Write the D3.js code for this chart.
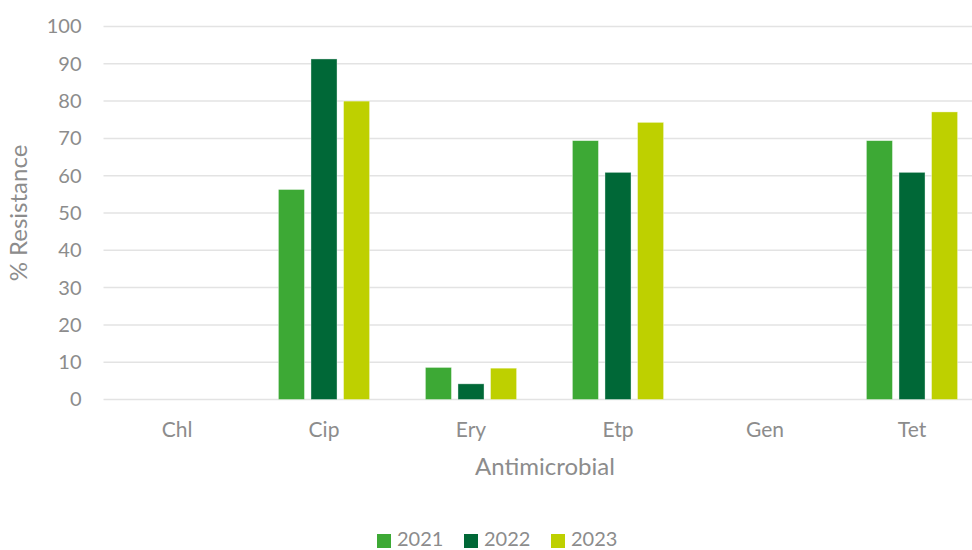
<!DOCTYPE html>
<html>
<head>
<meta charset="utf-8">
<script src="https://cdn.jsdelivr.net/npm/d3@7"></script>
<style>
  html, body { margin: 0; padding: 0; background: #ffffff; }
  svg { display: block; font-family: Lato, "Open Sans", sans-serif; }
</style>
</head>
<body>
<svg id="chart" width="972" height="550"></svg>
<script>
// Antimicrobial resistance by year
const categories = ["Chl", "Cip", "Ery", "Etp", "Gen", "Tet"];
const years = ["2021", "2022", "2023"];
const values2021 = [0, 56.3, 8.6, 69.4, 0, 69.4];
const values2022 = [0, 91.3, 4.2, 60.9, 0, 60.9];
const values2023 = [0, 80.0, 8.4, 74.3, 0, 77.1];
const yTicks = [0, 10, 20, 30, 40, 50, 60, 70, 80, 90, 100];
const colors = ["#3da935", "#006837", "#bed000"];

const seriesValues = [values2021, values2022, values2023];
const svg = d3.select("#chart");
const textColor = "#8c8c8c";
const gridColor = "#e3e3e3";

const x0 = d3.scaleBand().domain(categories).range([103.5, 985.5]).padding(0);
const x1 = d3.scaleBand().domain(years).range([-45.6, 45.6]).paddingInner(0.2);
const y = d3.scaleLinear().domain([0, 100]).range([399.5, 26.5]);

// gridlines
svg.append("g").selectAll("line")
  .data(yTicks)
  .join("line")
  .attr("x1", 103.5).attr("x2", 985.5)
  .attr("y1", d => y(d)).attr("y2", d => y(d))
  .attr("stroke", gridColor).attr("stroke-width", 1.5);

// y axis labels
const yAxis = svg.append("g").attr("transform", "translate(103.5,0)")
  .call(d3.axisLeft(y).tickValues(yTicks).tickSize(0).tickPadding(22));
yAxis.select(".domain").remove();
yAxis.selectAll("text")
  .attr("fill", textColor).attr("font-size", 20)
  .attr("font-family", "Lato, 'Open Sans', sans-serif");

// bars
const groups = svg.append("g").selectAll("g")
  .data(categories)
  .join("g")
  .attr("transform", d => `translate(${x0(d) + x0.bandwidth() / 2},0)`);

groups.selectAll("rect")
  .data((c, i) => years.map((yr, j) => ({ yr, j, v: seriesValues[j][i] })))
  .join("rect")
  .filter(d => d.v > 0)
  .attr("x", d => x1(d.yr))
  .attr("width", x1.bandwidth())
  .attr("y", d => y(d.v))
  .attr("height", d => y(0) - y(d.v))
  .attr("fill", d => colors[d.j])
  .attr("stroke", "#ffffff").attr("stroke-opacity", 0.5).attr("stroke-width", 0.75);

// x axis labels
const xAxis = svg.append("g").attr("transform", "translate(0,399.5)")
  .call(d3.axisBottom(x0).tickSize(0).tickPadding(23));
xAxis.select(".domain").remove();
xAxis.selectAll("text")
  .attr("fill", textColor).attr("font-size", 21)
  .attr("font-family", "Lato, 'Open Sans', sans-serif");

// axis titles
svg.append("text")
  .attr("x", 545).attr("y", 469)
  .attr("text-anchor", "middle").attr("dominant-baseline", "middle")
  .attr("fill", textColor).attr("font-size", 24)
  .text("Antimicrobial");

svg.append("text")
  .attr("transform", "translate(21,213) rotate(-90)")
  .attr("text-anchor", "middle").attr("dominant-baseline", "middle")
  .attr("fill", textColor).attr("font-size", 24)
  .text("% Resistance");

// legend
const legendX = [377, 464, 551];
const legend = svg.append("g").selectAll("g")
  .data(years)
  .join("g")
  .attr("transform", (d, i) => `translate(${legendX[i]},541)`);
legend.append("rect")
  .attr("x", 0).attr("y", -7).attr("width", 14).attr("height", 14)
  .attr("fill", (d, i) => colors[i]);
legend.append("text")
  .attr("x", 20).attr("y", 0)
  .attr("dominant-baseline", "middle")
  .attr("fill", textColor).attr("font-size", 20)
  .text(d => d);
</script>
</body>
</html>
